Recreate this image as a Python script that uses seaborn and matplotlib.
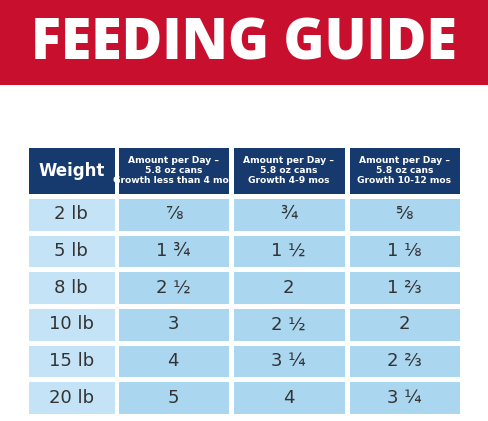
import numpy as np
import seaborn as sns
import matplotlib.pyplot as plt
from matplotlib.colors import ListedColormap

title = "FEEDING GUIDE"
headers = ["Weight",
           "Amount per Day –\n5.8 oz cans\nGrowth less than 4 mos",
           "Amount per Day –\n5.8 oz cans\nGrowth 4-9 mos",
           "Amount per Day –\n5.8 oz cans\nGrowth 10-12 mos"]
weights = ["2 lb", "5 lb", "8 lb", "10 lb", "15 lb", "20 lb"]
growth_lt4 = ["⅞", "1 ¾", "2 ½", "3", "4", "5"]
growth_4_9 = ["¾", "1 ½", "2", "2 ½", "3 ¼", "4"]
growth_10_12 = ["⅝", "1 ⅛", "1 ⅔", "2", "2 ⅔", "3 ¼"]

W, H = 488, 421
fig = plt.figure(figsize=(W / 100, H / 100), dpi=100)
fig.patch.set_facecolor("white")

# red banner
ban = fig.add_axes([0, 1 - 85 / H, 1, 85 / H])
ban.set_facecolor("#c8102e")
ban.set_xticks([]); ban.set_yticks([])
for s in ban.spines.values():
    s.set_visible(False)
ban.text(0.5, 0.47, title, color="white", ha="center", va="center",
         fontsize=40, fontweight="heavy", family=["Open Sans", "DejaVu Sans"])

head_font = ["DejaVu Sans Condensed", "DejaVu Sans"]
wx0, wx1 = 26 / W, 116.5 / W   # weight column
dx0, dx1 = 115.5 / W, 462 / W  # amount columns
hy, hh = 1 - 196 / H, 51 / H
by, bh = 1 - 416 / H, 220 / H
lw = 2.5

# header
hw = fig.add_axes([wx0, hy, wx1 - wx0, hh])
sns.heatmap(np.zeros((1, 1)), ax=hw, cmap=ListedColormap(["#173a6e"]), cbar=False,
            linewidths=lw, linecolor="white", annot=np.array([headers[:1]]), fmt="",
            annot_kws={"color": "white", "fontweight": "bold", "fontsize": 12,
                       "family": head_font})
hd = fig.add_axes([dx0, hy, dx1 - dx0, hh])
sns.heatmap(np.zeros((1, 3)), ax=hd, cmap=ListedColormap(["#173a6e"]), cbar=False,
            linewidths=lw, linecolor="white", annot=np.array([headers[1:]]), fmt="",
            annot_kws={"color": "white", "fontweight": "bold", "fontsize": 6.6,
                       "family": head_font, "linespacing": 1.15})

# body
bw = fig.add_axes([wx0, by, wx1 - wx0, bh])
sns.heatmap(np.zeros((6, 1)), ax=bw, cmap=ListedColormap(["#c4e3f6"]), cbar=False,
            linewidths=lw, linecolor="white", annot=np.array([weights]).T, fmt="",
            annot_kws={"color": "#333333", "fontsize": 13})
body = np.array([growth_lt4, growth_4_9, growth_10_12]).T
bd = fig.add_axes([dx0, by, dx1 - dx0, bh])
sns.heatmap(np.zeros(body.shape), ax=bd, cmap=ListedColormap(["#abd6f0"]), cbar=False,
            linewidths=lw, linecolor="white", annot=body, fmt="",
            annot_kws={"color": "#333333", "fontsize": 13})

for a in (hw, hd, bw, bd):
    a.set_xticks([]); a.set_yticks([])

fig.savefig("out.png", dpi=100, facecolor="white")
